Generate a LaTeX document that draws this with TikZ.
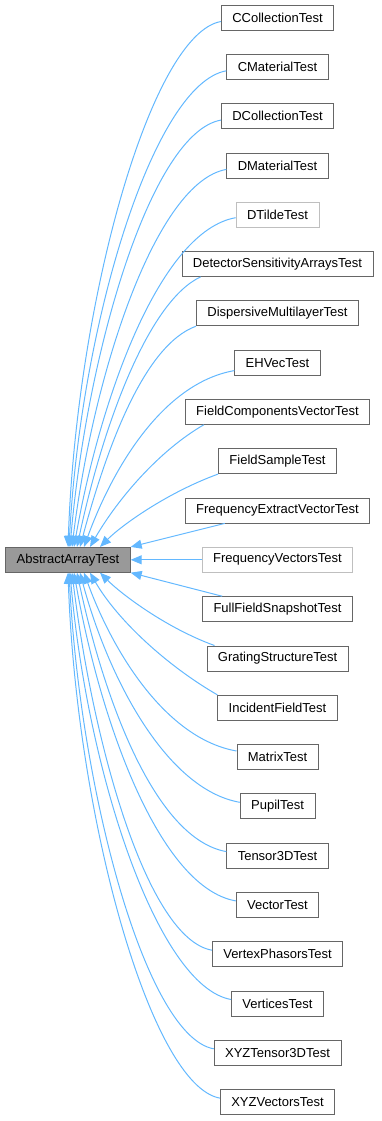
\documentclass[tikz,border=0pt]{standalone}
\usepackage{fontspec}
\setmainfont{Liberation Sans}
\usetikzlibrary{arrows.meta}

\definecolor{edgeblue}{HTML}{63B8FF}
\definecolor{boxgray}{HTML}{666666}
\definecolor{fadegray}{HTML}{BFBFBF}
\definecolor{rootfill}{HTML}{999999}

\begin{document}
\begin{tikzpicture}[<-,>={Triangle[length=11pt,width=9pt]},node distance=49.3pt]
\tikzstyle{cls}=[draw=boxgray,line width=0.75pt,fill=white,text=black,minimum height=25pt,inner xsep=11pt,inner ysep=0pt,font=\fontsize{13}{15}\selectfont]
\tikzstyle{faded}=[cls,draw=fadegray]
\tikzstyle{root}=[cls,fill=rootfill]
\tikzstyle{every edge}=[draw,edgeblue,line width=1pt]
\useasboundingbox (0,0) rectangle (381pt,-1121pt);

\node[cls] (cct) at (277.5pt,-17.5pt) {CCollectionTest};
\node[cls][below of=cct](cmt){CMaterialTest};
\node[cls][below of=cmt](dct){DCollectionTest};
\node[cls][below of=dct](dmt){DMaterialTest};
\node[faded][below of=dmt](dtt){DTildeTest};
\node[cls][below of=dtt](dsa){DetectorSensitivityArraysTest};
\node[cls][below of=dsa](dml){DispersiveMultilayerTest};
\node[cls][below of=dml](ehv){EHVecTest};
\node[cls][below of=ehv](fcv){FieldComponentsVectorTest};
\node[cls][below of=fcv](fst){FieldSampleTest};
\node[cls][below of=fst](fev){FrequencyExtractVectorTest};
\node[faded][below of=fev](fvt){FrequencyVectorsTest};
\node[cls][below of=fvt](ffs){FullFieldSnapshotTest};
\node[cls][below of=ffs](gst){GratingStructureTest};
\node[cls][below of=gst](ift){IncidentFieldTest};
\node[cls][below of=ift](mxt){MatrixTest};
\node[cls][below of=mxt](pup){PupilTest};
\node[cls][below of=pup](t3d){Tensor3DTest};
\node[cls][below of=t3d](vec){VectorTest};
\node[cls][below of=vec](vph){VertexPhasorsTest};
\node[cls][below of=vph](vtx){VerticesTest};
\node[cls][below of=vtx](xtd){XYZTensor3DTest};
\node[cls][below of=xtd](xvt){XYZVectorsTest};
\node[root][left of=fvt,node distance=209.5pt](base){AbstractArrayTest};

% classes above the base
\path (base.north)              edge[out=88,in=190,out distance=247pt,in distance=71pt] ([yshift=-4pt]cct.west)
      ([xshift=1pt]base.north)  edge[out=87,in=190,out distance=224pt,in distance=74pt] ([yshift=-4pt]cmt.west)
      ([xshift=2pt]base.north)  edge[out=85,in=190,out distance=200pt,in distance=70pt] ([yshift=-4pt]dct.west)
      ([xshift=4pt]base.north)  edge[out=83,in=190,out distance=178pt,in distance=71pt] ([yshift=-4pt]dmt.west)
      ([xshift=6pt]base.north)  edge[out=80,in=190,out distance=155pt,in distance=76pt] ([yshift=-3pt]dtt.west)
      ([xshift=9pt]base.north)  edge[out=78,in=205,out distance=127pt,in distance=57pt] ([xshift=19pt]dsa.south west)
      ([xshift=12pt]base.north) edge[out=75,in=200,out distance=104pt,in distance=55pt] (dml.south west)
      ([xshift=16pt]base.north) edge[out=70,in=190,out distance=83pt,in distance=73pt] ([yshift=-8pt]ehv.west)
      ([xshift=22pt]base.north) edge[out=60,in=210,out distance=55pt,in distance=52pt] ([xshift=19pt]fcv.south west)
      ([xshift=32pt]base.north) edge[out=45,in=200,out distance=30pt,in distance=55pt] (fst.south west)
% straight ones on the right
      (base.north east) edge ([xshift=40pt]fev.south west)
      (base) edge (fvt)
      (base.south east) edge ([xshift=20pt]ffs.north west)
% classes below the base
      ([xshift=32pt]base.south) edge[out=-45,in=160,out distance=30pt,in distance=52pt] ([xshift=8pt]gst.north west)
      ([xshift=22pt]base.south) edge[out=-60,in=150,out distance=55pt,in distance=58pt] (ift.north west)
      ([xshift=16pt]base.south) edge[out=-70,in=170,out distance=84pt,in distance=72pt] ([yshift=6pt]mxt.west)
      ([xshift=12pt]base.south) edge[out=-75,in=170,out distance=108pt,in distance=75pt] ([yshift=4pt]pup.west)
      ([xshift=9pt]base.south)  edge[out=-78,in=170,out distance=131pt,in distance=72pt] ([yshift=4pt]t3d.west)
      ([xshift=6pt]base.south)  edge[out=-80,in=170,out distance=154pt,in distance=77pt] ([yshift=4pt]vec.west)
      ([xshift=4pt]base.south)  edge[out=-83,in=170,out distance=177pt,in distance=65pt] ([yshift=4pt]vph.west)
      ([xshift=2pt]base.south)  edge[out=-85,in=170,out distance=200pt,in distance=75pt] ([yshift=4pt]vtx.west)
      ([xshift=1pt]base.south)  edge[out=-87,in=170,out distance=224pt,in distance=68pt] ([yshift=4pt]xtd.west)
      (base.south)              edge[out=-88,in=170,out distance=247pt,in distance=70pt] ([yshift=4pt]xvt.west);
\end{tikzpicture}
\end{document}
